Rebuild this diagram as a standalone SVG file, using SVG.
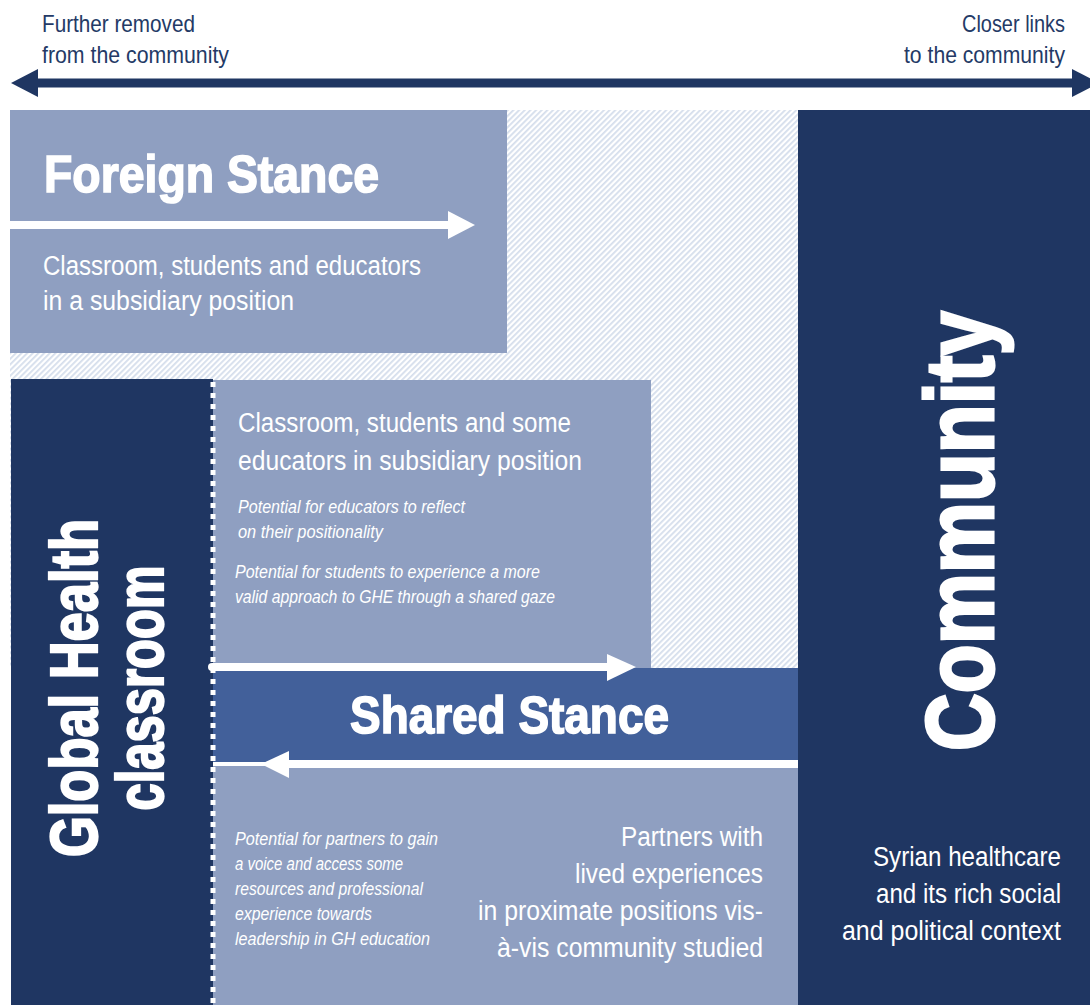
<svg xmlns="http://www.w3.org/2000/svg" width="1090" height="1005" viewBox="0 0 1090 1005">
<style>
.t{font-family:"Liberation Sans Narrow","Liberation Sans","DejaVu Sans Condensed",sans-serif;}
.hdr{fill:#243a66;font-size:24px;}
.w{fill:#ffffff;}
.body{font-size:27px;}
.it{font-size:18px;font-style:italic;}
.big{font-weight:bold;font-size:52px;stroke:#ffffff;stroke-width:1.6px;}
.heavy{font-weight:bold;stroke:#ffffff;stroke-width:2.2px;}
.light{fill:#8f9fc1;}
.navy{fill:#1f3662;}
.shared{fill:#42609a;}
.warrow{stroke:#ffffff;stroke-width:8;fill:none;}
</style>
<defs>
<pattern id="hatch" width="4" height="4" patternUnits="userSpaceOnUse" patternTransform="rotate(45)">
<rect width="4" height="4" fill="#ffffff"/>
<rect width="1.8" height="4" fill="#d5deec"/>
</pattern>
</defs>
<rect width="1090" height="1005" fill="#ffffff"/>
<rect x="10" y="110" width="788" height="558" fill="url(#hatch)"/>

<g id="axis">
<line x1="34" y1="83" x2="1076" y2="83" stroke="#1f3662" stroke-width="9"/>
<polygon points="11,83 38,69 38,97" fill="#1f3662"/>
<polygon points="1099,83 1072,69 1072,97" fill="#1f3662"/>
<text class="t hdr" x="42" y="32" textLength="153" lengthAdjust="spacingAndGlyphs">Further removed</text>
<text class="t hdr" x="42" y="63" textLength="187" lengthAdjust="spacingAndGlyphs">from the community</text>
<text class="t hdr" x="1065" y="32" text-anchor="end" textLength="103" lengthAdjust="spacingAndGlyphs">Closer links</text>
<text class="t hdr" x="1065" y="63" text-anchor="end" textLength="161" lengthAdjust="spacingAndGlyphs">to the community</text>
</g>

<g id="foreign">
<rect class="light" x="10" y="110" width="497" height="243"/>
<text class="t w big" x="44" y="192" textLength="335" lengthAdjust="spacingAndGlyphs">Foreign Stance</text>
<text class="t w body" x="43" y="275" textLength="378" lengthAdjust="spacingAndGlyphs">Classroom, students and educators</text>
<text class="t w body" x="43" y="310" textLength="251" lengthAdjust="spacingAndGlyphs">in a subsidiary position</text>
</g>

<g id="community">
<rect class="navy" x="798" y="110" width="292" height="895"/>
<text class="t w heavy" font-size="96" transform="translate(993,531) rotate(-90)" text-anchor="middle" textLength="440" lengthAdjust="spacingAndGlyphs" style="stroke-width:3px">Community</text>
<text class="t w body" x="1061" y="866" text-anchor="end" textLength="188" lengthAdjust="spacingAndGlyphs">Syrian healthcare</text>
<text class="t w body" x="1061" y="903" text-anchor="end" textLength="185" lengthAdjust="spacingAndGlyphs">and its rich social</text>
<text class="t w body" x="1061" y="940" text-anchor="end" textLength="219" lengthAdjust="spacingAndGlyphs">and political context</text>
</g>

<g id="classroom">
<rect class="navy" x="11" y="379" width="202" height="626"/>
<text class="t w heavy" font-size="66" transform="translate(97,688) rotate(-90)" text-anchor="middle" textLength="338" lengthAdjust="spacingAndGlyphs">Global Health</text>
<text class="t w heavy" font-size="66" transform="translate(163,688) rotate(-90)" text-anchor="middle" textLength="245" lengthAdjust="spacingAndGlyphs">classroom</text>
</g>

<g id="middle">
<rect class="light" x="213" y="380" width="438" height="288"/>
<text class="t w body" x="238" y="432" textLength="333" lengthAdjust="spacingAndGlyphs">Classroom, students and some</text>
<text class="t w body" x="238" y="470" textLength="344" lengthAdjust="spacingAndGlyphs">educators in subsidiary position</text>
<text class="t w it" x="238" y="513" textLength="227" lengthAdjust="spacingAndGlyphs">Potential for educators to reflect</text>
<text class="t w it" x="238" y="538" textLength="145" lengthAdjust="spacingAndGlyphs">on their positionality</text>
<text class="t w it" x="235" y="578" textLength="305" lengthAdjust="spacingAndGlyphs">Potential for students to experience a more</text>
<text class="t w it" x="235" y="603" textLength="320" lengthAdjust="spacingAndGlyphs">valid approach to GHE through a shared gaze</text>
</g>

<g id="shared">
<rect class="shared" x="213" y="668" width="585" height="94"/>
<text class="t w big" x="350" y="733" textLength="319" lengthAdjust="spacingAndGlyphs">Shared Stance</text>
</g>

<g id="bottom">
<rect class="light" x="213" y="766" width="585" height="239"/>
<text class="t w it" x="235" y="845" textLength="203" lengthAdjust="spacingAndGlyphs">Potential for partners to gain</text>
<text class="t w it" x="235" y="870" textLength="168" lengthAdjust="spacingAndGlyphs">a voice and access some</text>
<text class="t w it" x="235" y="895" textLength="188" lengthAdjust="spacingAndGlyphs">resources and professional</text>
<text class="t w it" x="235" y="920" textLength="137" lengthAdjust="spacingAndGlyphs">experience towards</text>
<text class="t w it" x="235" y="945" textLength="195" lengthAdjust="spacingAndGlyphs">leadership in GH education</text>
<text class="t w body" x="763" y="846" text-anchor="end" textLength="142" lengthAdjust="spacingAndGlyphs">Partners with</text>
<text class="t w body" x="763" y="883" text-anchor="end" textLength="188" lengthAdjust="spacingAndGlyphs">lived experiences</text>
<text class="t w body" x="763" y="920" text-anchor="end" textLength="285" lengthAdjust="spacingAndGlyphs">in proximate positions vis-</text>
<text class="t w body" x="763" y="957" text-anchor="end" textLength="266" lengthAdjust="spacingAndGlyphs">à-vis community studied</text>
</g>

<g id="connectors">
<line x1="213" y1="382" x2="213" y2="1005" stroke="#ffffff" stroke-width="5" stroke-dasharray="5 6"/>
<line class="warrow" x1="10" y1="225" x2="452" y2="225"/>
<polygon points="475,225 448,211 448,239" fill="#ffffff"/>
<line class="warrow" x1="212" y1="667" x2="612" y2="667" stroke-linecap="round"/>
<polygon points="636,667 607,654 607,681" fill="#ffffff"/>
<line class="warrow" x1="798" y1="764" x2="284" y2="764"/>
<polygon points="261,764 289,751 289,778" fill="#ffffff"/>
</g>
</svg>
